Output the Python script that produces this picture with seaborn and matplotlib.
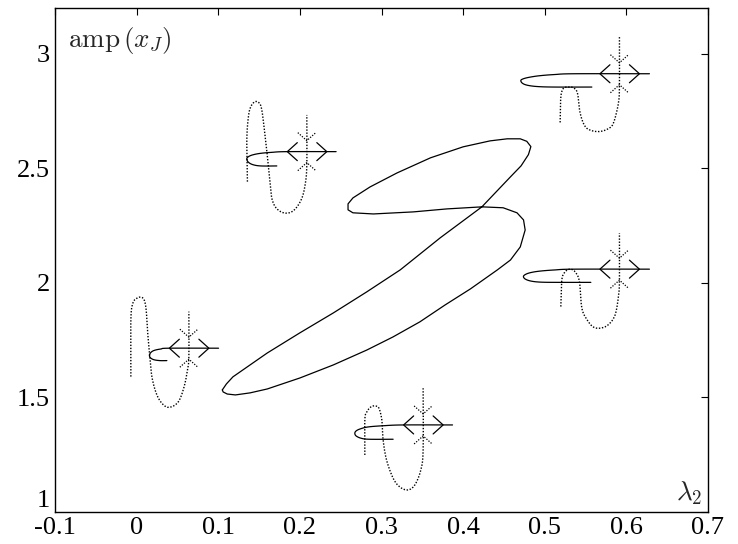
import numpy as np
import pandas as pd
import matplotlib
matplotlib.use("Agg")
import matplotlib.pyplot as plt
import matplotlib.transforms as mtransforms
import seaborn as sns

# ---------------- data ----------------
# main (closed) solution branch: lambda_2 vs amp(x_J)
lam = [0.105, 0.110, 0.118, 0.160, 0.200, 0.241, 0.282, 0.323, 0.372, 0.423,
       0.458, 0.471, 0.480, 0.483, 0.478, 0.470, 0.454, 0.433, 0.400, 0.360, 0.319,
       0.286, 0.265, 0.259, 0.259, 0.265, 0.290, 0.339, 0.380, 0.423, 0.449,
       0.466, 0.474, 0.476, 0.470, 0.458, 0.442, 0.409, 0.378, 0.347, 0.314,
       0.282, 0.241, 0.200, 0.160, 0.139, 0.121, 0.111, 0.106, 0.105]
amp = [1.533, 1.559, 1.590, 1.694, 1.782, 1.869, 1.961, 2.057, 2.197, 2.332,
       2.463, 2.511, 2.560, 2.595, 2.618, 2.629, 2.629, 2.620, 2.594, 2.546, 2.480,
       2.419, 2.371, 2.345, 2.319, 2.306, 2.301, 2.310, 2.323, 2.332, 2.328,
       2.306, 2.275, 2.231, 2.157, 2.100, 2.057, 1.974, 1.904, 1.830, 1.764,
       1.707, 1.642, 1.585, 1.537, 1.520, 1.511, 1.515, 1.524, 1.533]

xticks = [-0.1, 0, 0.1, 0.2, 0.3, 0.4, 0.5, 0.6, 0.7]
xticklabels = ["-0.1", "0", "0.1", "0.2", "0.3", "0.4", "0.5", "0.6", "0.7"]
yticks = [1, 1.5, 2, 2.5, 3]
yticklabels = ["1", "1.5", "2", "2.5", "3"]

# anchors (saddle points) of the small phase-portrait sketches
inset_lam = [0.064, 0.2085, 0.351, 0.5915, 0.5915]
inset_amp = [1.715, 2.573, 1.380, 2.913, 2.060]

# sketch shapes (offsets in pixels from the anchor, y up)
hairpin_x = [
    [29.7, -20, -28, -34, -37.5, -39.4, -38.5, -35, -29, -22],
    [29.3, -20, -35, -47, -55, -59, -60, -58.5, -54, -46, -30],
    [29.4, -20, -40, -55, -63, -67, -68.3, -67, -62, -54, -30],
    [30, -45, -65, -80, -90, -96, -98.6, -97, -92, -82, -65, -27.6],
    [30, -45, -65, -80, -89, -94, -96, -94, -88, -78, -60, -28.6],
]
hairpin_y = [
    [0, 0, -0.8, -2, -3.8, -6.7, -9.5, -11.5, -12.4, -12.4],
    [0, 0, -0.7, -1.8, -3.5, -5.5, -7.5, -10.5, -13, -14.3, -14.3],
    [0, 0, -0.8, -2, -4, -6, -8.3, -11, -13.3, -14.3, -14.3],
    [0, 0, -0.8, -2, -3.5, -5, -6.7, -9.5, -11.5, -12.8, -13.3, -13.3],
    [0, 0, -0.8, -2, -3.5, -5.3, -7.4, -10, -12, -13, -13.2, -13.2],
]
dotted_x = [
    [-58, -58, -56, -52, -48, -44.7, -42.7, -41.4, -39.4, -37, -32, -25.4, -18.7, -10.4, -4.7, -1.4, 0, 0],
    [-59.4, -60, -58.4, -56, -51.7, -47.4, -45, -42.4, -39.4, -36.7, -35, -30.7, -22.7, -13.7, -5.7, -1.7, 0, 0],
    [-58.3, -58.3, -56.3, -52.3, -48.3, -44.3, -41.3, -40, -36.6, -30, -23.3, -15.3, -8.3, -2.3, 0, 0],
    [-59.3, -58.8, -57.6, -55.3, -51, -46.3, -42, -39.3, -34.3, -27.3, -19.3, -11.3, -6, -1, 0, 0],
    [-58.6, -57.6, -54.3, -49.3, -44.3, -40, -37.6, -32.3, -26.3, -19.3, -11.3, -4.3, -0.8, 0, 0],
]
dotted_y = [
    [-28.4, 28.3, 45, 50, 51, 48.3, 38.3, 18.3, -5, -28.4, -46.7, -56.7, -59, -53.4, -38.4, -21.7, -8.4, 36.6],
    [-30, 11.7, 35, 45, 50, 48.4, 41.7, 21.7, -5, -31.6, -46.6, -56.3, -61.3, -59.3, -48.3, -33.3, -13.3, 36.7],
    [-30, 5, 13, 18, 19, 17, 5, -15, -35, -53.3, -62, -65, -60, -45, -25, 36.7],
    [-48.7, -26, -17.7, -14, -13.3, -14, -19.3, -39.3, -52.7, -57, -57.7, -55, -49.3, -29.3, -11, 37.3],
    [-37.4, -10.7, -2.7, 0, -2.7, -12.4, -39, -50.7, -57.7, -59, -55.7, -45.7, -25.7, -10.7, 36],
]
arrow_out = [([-9.5, -19.5, -9.5], [9, 0, -9]), ([10, 20, 10], [9, 0, -9])]
arrow_in = [([-9, 0, 9], [19, 11, 19]), ([-9, 0, 9], [-19, -11, -19])]


def smooth(x, y, n=10):
    p = np.column_stack([x, y]).astype(float)
    p = np.vstack([p[0], p, p[-1]])
    out = []
    t = np.linspace(0, 1, n, endpoint=False)[:, None]
    for i in range(1, len(p) - 2):
        p0, p1, p2, p3 = p[i - 1], p[i], p[i + 1], p[i + 2]
        out.append(0.5 * ((2 * p1) + (-p0 + p2) * t + (2 * p0 - 5 * p1 + 4 * p2 - p3) * t ** 2
                          + (-p0 + 3 * p1 - 3 * p2 + p3) * t ** 3))
    out.append(p[-2][None])
    s = np.vstack(out)
    return s[:, 0], s[:, 1]


# ---------------- style ----------------
sns.set_theme(style="white")
plt.rcParams["font.family"] = ["Liberation Serif", "DejaVu Serif"]
plt.rcParams["mathtext.fontset"] = "cm"
plt.rcParams["axes.unicode_minus"] = False

fig = plt.figure(figsize=(7.38, 5.44), dpi=100)
ax = fig.add_axes([55 / 738, 32 / 544, 653 / 738, 504 / 544])

df = pd.DataFrame({"lam": lam, "amp": amp})
sns.lineplot(data=df, x="lam", y="amp", sort=False, estimator=None,
             color="black", lw=0.9, ax=ax)

ax.set_xlim(-0.1, 0.7)
ax.set_ylim(1.0, 3.2)
ax.autoscale(False)
ax.set_xticks(xticks, labels=xticklabels)
ax.set_yticks(yticks, labels=yticklabels)
ax.set_xlabel("")
ax.set_ylabel("")
ax.tick_params(direction="in", length=4.7, width=0.8, top=True, right=True,
               labelsize=19, colors="black")
ax.tick_params(axis="x", pad=3.5)
ax.tick_params(axis="y", pad=3.5)
for s in ax.spines.values():
    s.set_linewidth(1.0)
    s.set_color("black")
ax.grid(False)
# lift the bottom y label slightly so it sits above the "-0.1" x label
ax.get_yticklabels()[0].set_va("bottom")

# sketches
for i in range(len(inset_lam)):
    tr = mtransforms.Affine2D() + mtransforms.ScaledTranslation(inset_lam[i], inset_amp[i], ax.transData)
    hx, hy = smooth(hairpin_x[i], hairpin_y[i])
    ax.plot(hx, hy, color="black", lw=0.9, transform=tr)
    dx, dy = smooth(dotted_x[i], dotted_y[i])
    ax.plot(dx, dy, color="black", lw=1.0, ls=(0, (1, 1.2)), transform=tr)
    for ax_, ay_ in arrow_out:
        ax.plot(ax_, ay_, color="black", lw=0.9, transform=tr)
    for ax_, ay_ in arrow_in:
        ax.plot(ax_, ay_, color="black", lw=0.9, ls=(0, (1, 1.2)), transform=tr)

ax.text(0.020, 0.923, r"$\mathrm{amp}\,(x_J)$", transform=ax.transAxes,
        ha="left", va="baseline", fontsize=19.5)
ax.text(0.992, 0.024, r"$\lambda_2$", transform=ax.transAxes,
        ha="right", va="baseline", fontsize=19.5)

fig.savefig("out.png", dpi=100)
